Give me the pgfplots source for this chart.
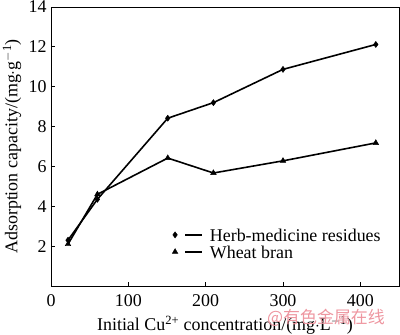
\documentclass[border=0pt]{standalone}
\usepackage{pgfplots}
\pgfplotsset{compat=1.18}
\usepackage{fontspec}
\setmainfont{Liberation Serif}
\newfontfamily\cjk{Noto Sans CJK SC}
\begin{document}
\begin{tikzpicture}
\path[use as bounding box] (-51bp,-49bp) rectangle (349bp,286bp);
\begin{axis}[
  at={(0,0)}, anchor=south west,
  scale only axis, width=348bp, height=279bp,
  xmin=0, xmax=450, ymin=0, ymax=14,
  xtick={0,100,200,300,400},
  ytick={2,4,6,8,10,12,14},
  tick align=inside, xtick pos=bottom, ytick pos=left,
  major tick length=4bp,
  axis line style={line width=0.8pt},
  every tick/.style={black, line width=0.8pt},
  /pgf/number format/assume math mode=true,
  ticklabel style={font=\fontsize{18}{20}\selectfont},
  label style={font=\fontsize{18}{20}\selectfont},
  xticklabel style={yshift=-5bp},
  yticklabel style={xshift=-1bp},
  xlabel={Initial Cu\textsuperscript{2+} concentration/(mg$\cdot$L\textsuperscript{$-$1})},
  ylabel={Adsorption capacity/(mg$\cdot$g\textsuperscript{$-$1})},
  xlabel style={at={(axis description cs:0.5,-0.14)}, anchor=center},
  ylabel style={at={(axis description cs:-0.112,0.5)}, anchor=center, rotate=0},
  legend style={draw=none, fill=none, at={(axis description cs:0.348,0.142)}, anchor=west,
    font=\fontsize{18}{20}\selectfont, inner sep=0pt, row sep=0pt,
    nodes={inner sep=0pt, text height=12bp, text depth=5bp},
    /tikz/every odd column/.append style={column sep=7bp}},
  legend cell align=left,
  legend image code/.code={%
    \draw[#1, mark=none] (10bp,3bp) -- (27bp,3bp);
    \draw[#1] plot coordinates {(0bp,3bp)};
  },
]
\addplot[black, line width=1.6pt, mark=diamond*, mark size=3bp, mark options={solid, line width=0.5pt}]
  coordinates {(22,2.3) (60,4.35) (151,8.42) (210,9.2) (300,10.87) (420,12.12)};
\addlegendentry{Herb-medicine residues}
\addplot[black, line width=1.6pt, mark=triangle*, mark size=3.2bp, mark options={solid, line width=0.5pt}]
  coordinates {(22,2.1) (60,4.6) (151,6.42) (210,5.67) (300,6.28) (420,7.18)};
\addlegendentry{Wheat bran}
\end{axis}
\node[text={rgb,255:red,238;green,150;blue,160}, font=\cjk\fontsize{17}{18}\selectfont, anchor=center] at (275bp,-32bp) {@有色金属在线};
\end{tikzpicture}
\end{document}
